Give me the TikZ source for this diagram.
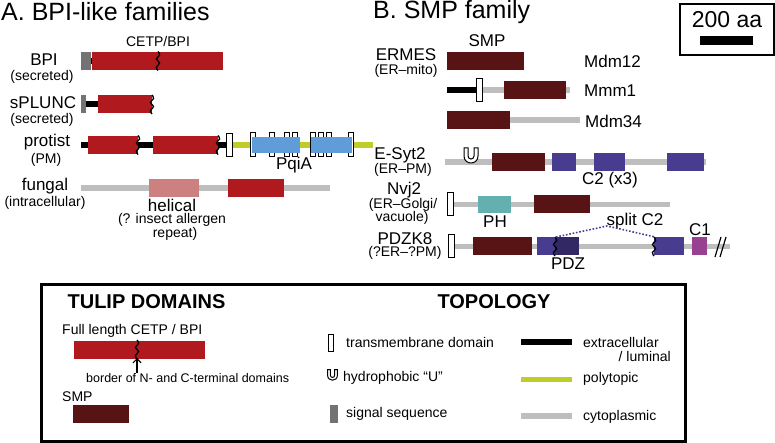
\documentclass[tikz,border=0pt]{standalone}
\usepackage{fontspec}
\setmainfont{Liberation Sans}
\usetikzlibrary{arrows.meta}

\definecolor{cetpred}{RGB}{176,26,31}
\definecolor{smpred}{RGB}{88,20,20}
\definecolor{helixpink}{RGB}{205,128,128}
\definecolor{pqiblue}{RGB}{96,156,216}
\definecolor{polygreen}{RGB}{190,205,40}
\definecolor{cytogray}{RGB}{190,190,190}
\definecolor{siggray}{RGB}{115,115,115}
\definecolor{ctwoblue}{RGB}{72,60,145}
\definecolor{pdzblue}{RGB}{50,40,100}
\definecolor{phteal}{RGB}{100,175,175}
\definecolor{conemag}{RGB}{150,65,145}

% domain bar: colour, x from, x to, y centre
\newcommand{\dombar}[4]{\fill[#1] (#2,#4-9) rectangle (#3,#4+9);}
% transmembrane box: x from, x to, y centre
\newcommand{\tmbox}[3]{\draw[line width=1pt,fill=white] (#1,#3-11.5) rectangle (#2,#3+11.5);}

\tikzset{
  squig/.pic={\draw[line width=1.3pt] plot[smooth,tension=0.7] coordinates
    {(0,-9.5) (1.6,-6) (-1.6,-2) (1.6,2) (-1.6,6) (0,9.5)};},
  hydu/.pic={\draw[line width=1pt,fill=white,even odd rule]
    (-7,-14) -- (-7,-6) .. controls (-7,3.3) and (7,3.3) .. (7,-6) -- (7,-14) -- (3,-14)
    -- (3,-6) .. controls (3,-2) and (-3,-2) .. (-3,-6) -- (-3,-14) -- cycle;},
  cyto/.style={cytogray,line width=5.5pt},
  luminal/.style={black,line width=5.5pt},
  poly/.style={polygreen,line width=5.5pt},
}

\begin{document}
\begin{tikzpicture}[x=1pt,y=-1pt,
  paneltitle/.style={font=\fontsize{25}{28}\selectfont,inner sep=0pt,anchor=west},
  famlabel/.style={font=\fontsize{17}{19}\selectfont,inner sep=0pt},
  loclabel/.style={font=\fontsize{14}{16}\selectfont,inner sep=0pt},
  legtext/.style={font=\fontsize{14}{16}\selectfont,inner sep=0pt,anchor=west},
  legtitle/.style={font=\bfseries\fontsize{20}{22}\selectfont,inner sep=0pt},
  splitline/.style={ctwoblue,line width=1.6pt,dash pattern=on 1.6pt off 1.8pt}]
\useasboundingbox (0,0) rectangle (775,443);

% ---- A. BPI-like families
\node[paneltitle] (titleA) at (1,12) {A. BPI-like families};
\node[loclabel] (cetp) at (158,42) {CETP/BPI};

% BPI
\draw[luminal] (86,61) -- (95,61);
\fill[siggray] (81,52) rectangle (91,70);
\dombar{cetpred}{92}{223}{61}
\pic at (158,61) {squig};
% sPLUNC
\draw[luminal] (85,104) -- (99,104);
\fill[siggray] (81,95) rectangle (86,113);
\dombar{cetpred}{98}{152}{104.5}
\pic at (152,104.5) {squig};
% protist
\draw[luminal] (81,145) -- (227,145);
\draw[poly] (232,145) -- (373,145);
\dombar{cetpred}{88}{138}{145}
\dombar{cetpred}{153}{218}{145}
\pic at (138,145) {squig};
\pic at (218,145) {squig};
\tmbox{226}{232}{145}
\foreach \x in {250,269,284,292,310,318,326,348}
  \draw[line width=1pt,fill=white] (\x,133) rectangle (\x+5,157);
\fill[pqiblue] (252,137) rectangle (300,153);
\fill[pqiblue] (311,137) rectangle (352,153);
% fungal
\draw[cyto] (81,188) -- (330,188);
\dombar{helixpink}{149}{199}{188}
\dombar{cetpred}{228}{284}{188}

\begin{scope}[every node/.style={famlabel}]
  \node (bpi)     at (44,60)   {BPI};
  \node (splunc)  at (43,103)  {sPLUNC};
  \node (protist) at (47,142)  {protist};
  \node (fungal)  at (45,186)  {fungal};
  \node (pqia)    at (294,165) {PqiA};
  \node (helical) at (172,205) {helical};
\end{scope}
\begin{scope}[every node/.style={loclabel}]
  \node (bpiloc)    at (42,76.5)  {(secreted)};
  \node (splunloc)  at (42,120)   {(secreted)};
  \node (protloc)   at (46,160)   {(PM)};
  \node (fungloc)   at (45,203)   {(intracellular)};
  \node (helnote)   at (172,219.5) {(? insect allergen};
  \node (helnote2)  at (175,234)  {repeat)};
\end{scope}

% ---- B. SMP family
\node[paneltitle] (titleB) at (373,12) {B. SMP family};
\draw[line width=2pt] (680,4) rectangle (774,55);
\node[font=\fontsize{23}{26}\selectfont,inner sep=0pt] (scale) at (727,20) {200 aa};
\fill (700,36) rectangle (753,45);

% Mdm12, Mmm1, Mdm34
\dombar{smpred}{447}{524}{61}
\draw[luminal] (447,90) -- (478,90);
\draw[cyto] (480,90) -- (570,90);
\dombar{smpred}{504}{566}{90}
\tmbox{476}{482}{90}
\draw[cyto] (505,120) -- (580,120);
\dombar{smpred}{447}{510}{120}
% E-Syt2
\draw[cyto] (445,162) -- (706,162);
\pic at (471,162) {hydu};
\dombar{smpred}{492}{545}{162}
\dombar{ctwoblue}{552}{576}{162}
\dombar{ctwoblue}{594}{625}{162}
\dombar{ctwoblue}{667}{704}{162}
% Nvj2
\draw[cyto] (453,204.5) -- (670,204.5);
\tmbox{447}{453}{204}
\fill[phteal] (478,196) rectangle (511,213);
\dombar{smpred}{534}{590}{204.5}
% PDZK8
\draw[cyto] (454,246.5) -- (730,246.5);
\tmbox{448}{454}{246.5}
\dombar{smpred}{473}{532}{246.5}
\dombar{ctwoblue}{537}{556}{246.5}
\dombar{pdzblue}{555}{579}{246.5}
\dombar{ctwoblue}{654}{684}{246.5}
\dombar{conemag}{692}{707}{246.5}
\pic at (555,246.5) {squig};
\pic at (654,246.5) {squig};
\draw[line width=1.2pt] (715,257) -- (721,237) (720,257) -- (726,237);

\begin{scope}[every node/.style={famlabel}]
  \node (smp)    at (487,41)    {SMP};
  \node (ermes)  at (406,54.5)  {ERMES};
  \node (esyt)   at (400,155)   {E-Syt2};
  \node (nvj)    at (404,190)   {Nvj2};
  \node (pdzk)   at (405,238.5) {PDZK8};
  \node (ctwo)   at (610,180)   {C2 (x3)};
  \node (ph)     at (495,222)   {PH};
  \node (pdz)    at (568,263.5) {PDZ};
  \node (split)  at (635,221)   {split C2};
  \node (cone)   at (700,229.5) {C1};
  \node[anchor=west] (mdmA) at (584,61)  {Mdm12};
  \node[anchor=west] (mmm)  at (584,91)  {Mmm1};
  \node[anchor=west] (mdmB) at (585,121) {Mdm34};
\end{scope}
\begin{scope}[every node/.style={loclabel}]
  \node (ermesloc) at (406,70.5) {(ER–mito)};
  \node (esytloc)  at (403,169.5) {(ER–PM)};
  \node (nvjloc)   at (403,205) {(ER–Golgi/};
  \node (nvjloc2)  at (402,218) {vacuole)};
  \node (pdzkloc)  at (405,252.5) {(?ER–?PM)};
\end{scope}
\coordinate (splitL) at (556,237);
\coordinate (splitT) at (607,226);
\coordinate (splitR) at (655,237);
\draw[splitline] (splitL) -- (splitT) -- (splitR);

% ---- legend
\draw[line width=3pt] (41.5,284.5) rectangle (685.5,441.5);
\node[legtitle] (tulip) at (146.5,302) {TULIP DOMAINS};
\node[legtitle] (topo)  at (494,302)   {TOPOLOGY};

\node[legtext] (full) at (62,331) {Full length CETP / BPI};
\dombar{cetpred}{74}{205}{349.5}
\pic at (137,349.5) {squig};
\coordinate (bordtip) at (137,358);
\coordinate (bordtail) at (137,373);
\draw[line width=1.2pt,-{Straight Barb[length=4pt,width=8pt]}] (bordtail) -- (bordtip);
\node[legtext,font=\fontsize{12.5}{14}\selectfont] (border) at (86,378) {border of N- and C-terminal domains};
\node[legtext] (smpkey) at (62,397) {SMP};
\dombar{smpred}{73}{129}{414}

\draw[line width=1pt,fill=white] (328,334) rectangle (333,351);
\pic[scale=0.7] at (332.5,379.5) {hydu};
\fill[siggray] (330,405) rectangle (338,423);
\node[legtext] (tmkey)  at (346,342) {transmembrane domain};
\node[legtext] (ukey)   at (343,378) {hydrophobic “U”};
\node[legtext] (sigkey) at (346,414) {signal sequence};

\draw[luminal] (521,342) -- (572,342);
\draw[poly] (521,379.5) -- (572,379.5);
\draw[cyto] (521,416) -- (572,416);
\node[legtext] (lumkey)  at (583,342) {extracellular};
\node[legtext,anchor=east] (lumkey2) at (671,356) {/ luminal};
\node[legtext] (polykey) at (583,379) {polytopic};
\node[legtext] (cytokey) at (583,417) {cytoplasmic};
\end{tikzpicture}
\end{document}
